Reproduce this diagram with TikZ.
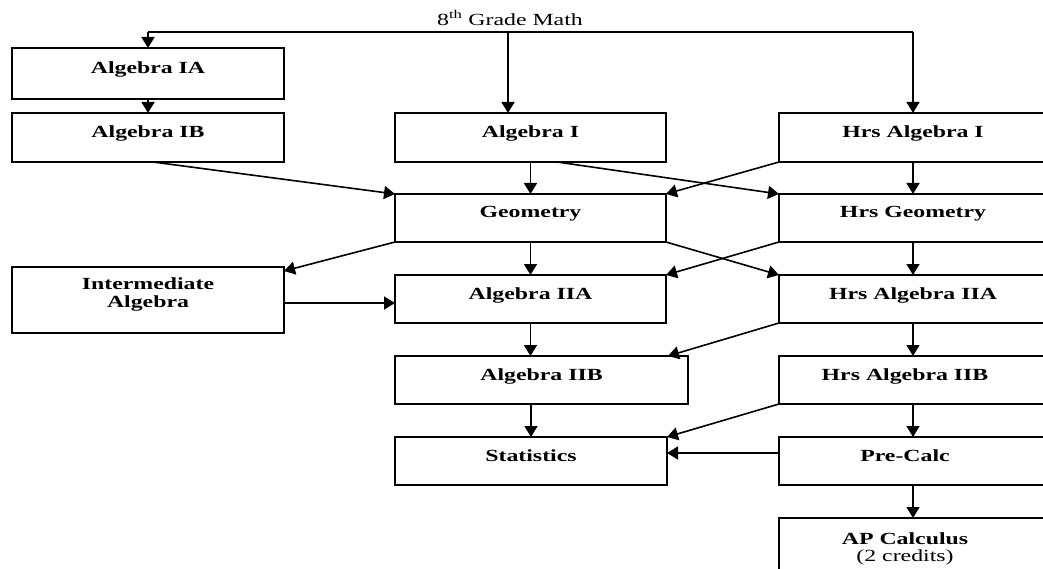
\documentclass[tikz,border=0pt]{standalone}
\usepackage{fontspec}
\setmainfont{Liberation Serif}[FakeStretch=1.4]
\usetikzlibrary{arrows.meta,calc}
\tikzset{
  box/.style={draw, line width=2.2pt, rectangle, inner sep=0pt, outer sep=0pt,
    font=\bfseries\fontsize{17}{18}\selectfont, text height=12pt, text depth=12pt},
  tbox/.style={draw, line width=2.2pt, rectangle, inner sep=0pt, outer sep=0pt},
  btxt/.style={font=\fontsize{17}{17.5}\selectfont, align=center, inner sep=0pt},
  arr/.style={line width=1.6pt, -{Triangle[length=11pt,width=13pt]}},
  feed/.style={line width=1.1pt}
}
\newcommand{\lft}{\hspace*{16pt}}
\begin{document}
\begin{tikzpicture}[x=1pt,y=-1pt]
\useasboundingbox (0,0) rectangle (1043,569);
% boxes
\node[box, minimum width=272pt, minimum height=51pt] (alIA) at (148,73.5) {Algebra IA};
\node[box, minimum width=272pt, minimum height=49pt] (alIB) at (148,137.5) {Algebra IB};
\node[box, minimum width=271pt, minimum height=49pt] (alI) at (530.5,137.5) {Algebra I};
\node[box, minimum width=268pt, minimum height=49pt] (halI) at (913,137.5) {Hrs Algebra I};
\node[box, minimum width=271pt, minimum height=48pt] (geo) at (530.5,218) {Geometry};
\node[box, minimum width=268pt, minimum height=48pt] (hgeo) at (913,218) {Hrs Geometry};
\node[tbox, minimum width=272pt, minimum height=66pt] (inter) at (148,300) {};
\node[btxt, font=\bfseries\fontsize{17}{18}\selectfont] (intertxt) at (148,294) {Intermediate\\Algebra};
\node[box, minimum width=271pt, minimum height=48pt] (alIIA) at (530.5,299) {Algebra IIA};
\node[box, minimum width=268pt, minimum height=48pt] (halIIA) at (913,299) {Hrs Algebra IIA};
\node[box, minimum width=293pt, minimum height=48pt] (alIIB) at (541.5,380) {Algebra IIB};
\node[box, minimum width=268pt, minimum height=48pt] (halIIB) at (913,380) {Hrs Algebra IIB\lft};
\node[box, minimum width=272pt, minimum height=48pt] (stats) at (531,461) {Statistics};
\node[box, minimum width=268pt, minimum height=48pt] (precalc) at (913,461) {Pre-Calc\lft};
\node[tbox, minimum width=268pt, minimum height=62pt] (ap) at (913,549) {};
\node[btxt] (aptxt) at (905,549) {\textbf{AP Calculus}\\(2 credits)};
% top label and feeder line
\node[btxt] (grade) at (510,18) {8\textsuperscript{th} Grade Math};
\coordinate (jl) at (148,32);
\coordinate (jm) at (508,32);
\coordinate (jr) at (913,32);
\draw[feed] (jl) -- (jr);
\draw[arr] (jl) -- (alIA.north);
\draw[arr] (jm) -- (jm |- alI.north);
\draw[arr] (jr) -- (halI.north);
% connectors
\draw[arr] (alIA.south) -- (alIB.north);
\draw[arr] ([xshift=5pt]alIB.south) -- (geo.north west);
\draw[arr] (alI.south) -- (geo.north);
\draw[arr] ([xshift=26.5pt]alI.south) -- (hgeo.north west);
\draw[arr] (halI.south west) -- (geo.north east);
\draw[arr] (halI.south) -- (hgeo.north);
\draw[arr] (geo.south west) -- ([yshift=-4pt]inter.north east);
\draw[arr] (geo.south) -- (alIIA.north);
\draw[arr] (geo.south east) -- (halIIA.north west);
\draw[arr] (hgeo.south west) -- (alIIA.north east);
\draw[arr] (hgeo.south) -- (halIIA.north);
\draw[arr] ([yshift=-3pt]inter.east) -- ([yshift=-3pt]inter.east -| alIIA.west);
\draw[arr] (alIIA.south) -- (alIIA.south |- alIIB.north);
\draw[arr] (halIIA.south west) -- ([xshift=-20pt]alIIB.north east);
\draw[arr] (halIIA.south) -- (halIIB.north);
\draw[arr] (stats.north |- alIIB.south) -- (stats.north);
\draw[arr] (halIIB.south west) -- (stats.north east);
\draw[arr] (halIIB.south) -- (precalc.north);
\draw[arr] ([yshift=8pt]precalc.west) -- ([yshift=8pt]precalc.west -| stats.east);
\draw[arr] (precalc.south) -- (ap.north);
\end{tikzpicture}
\end{document}
